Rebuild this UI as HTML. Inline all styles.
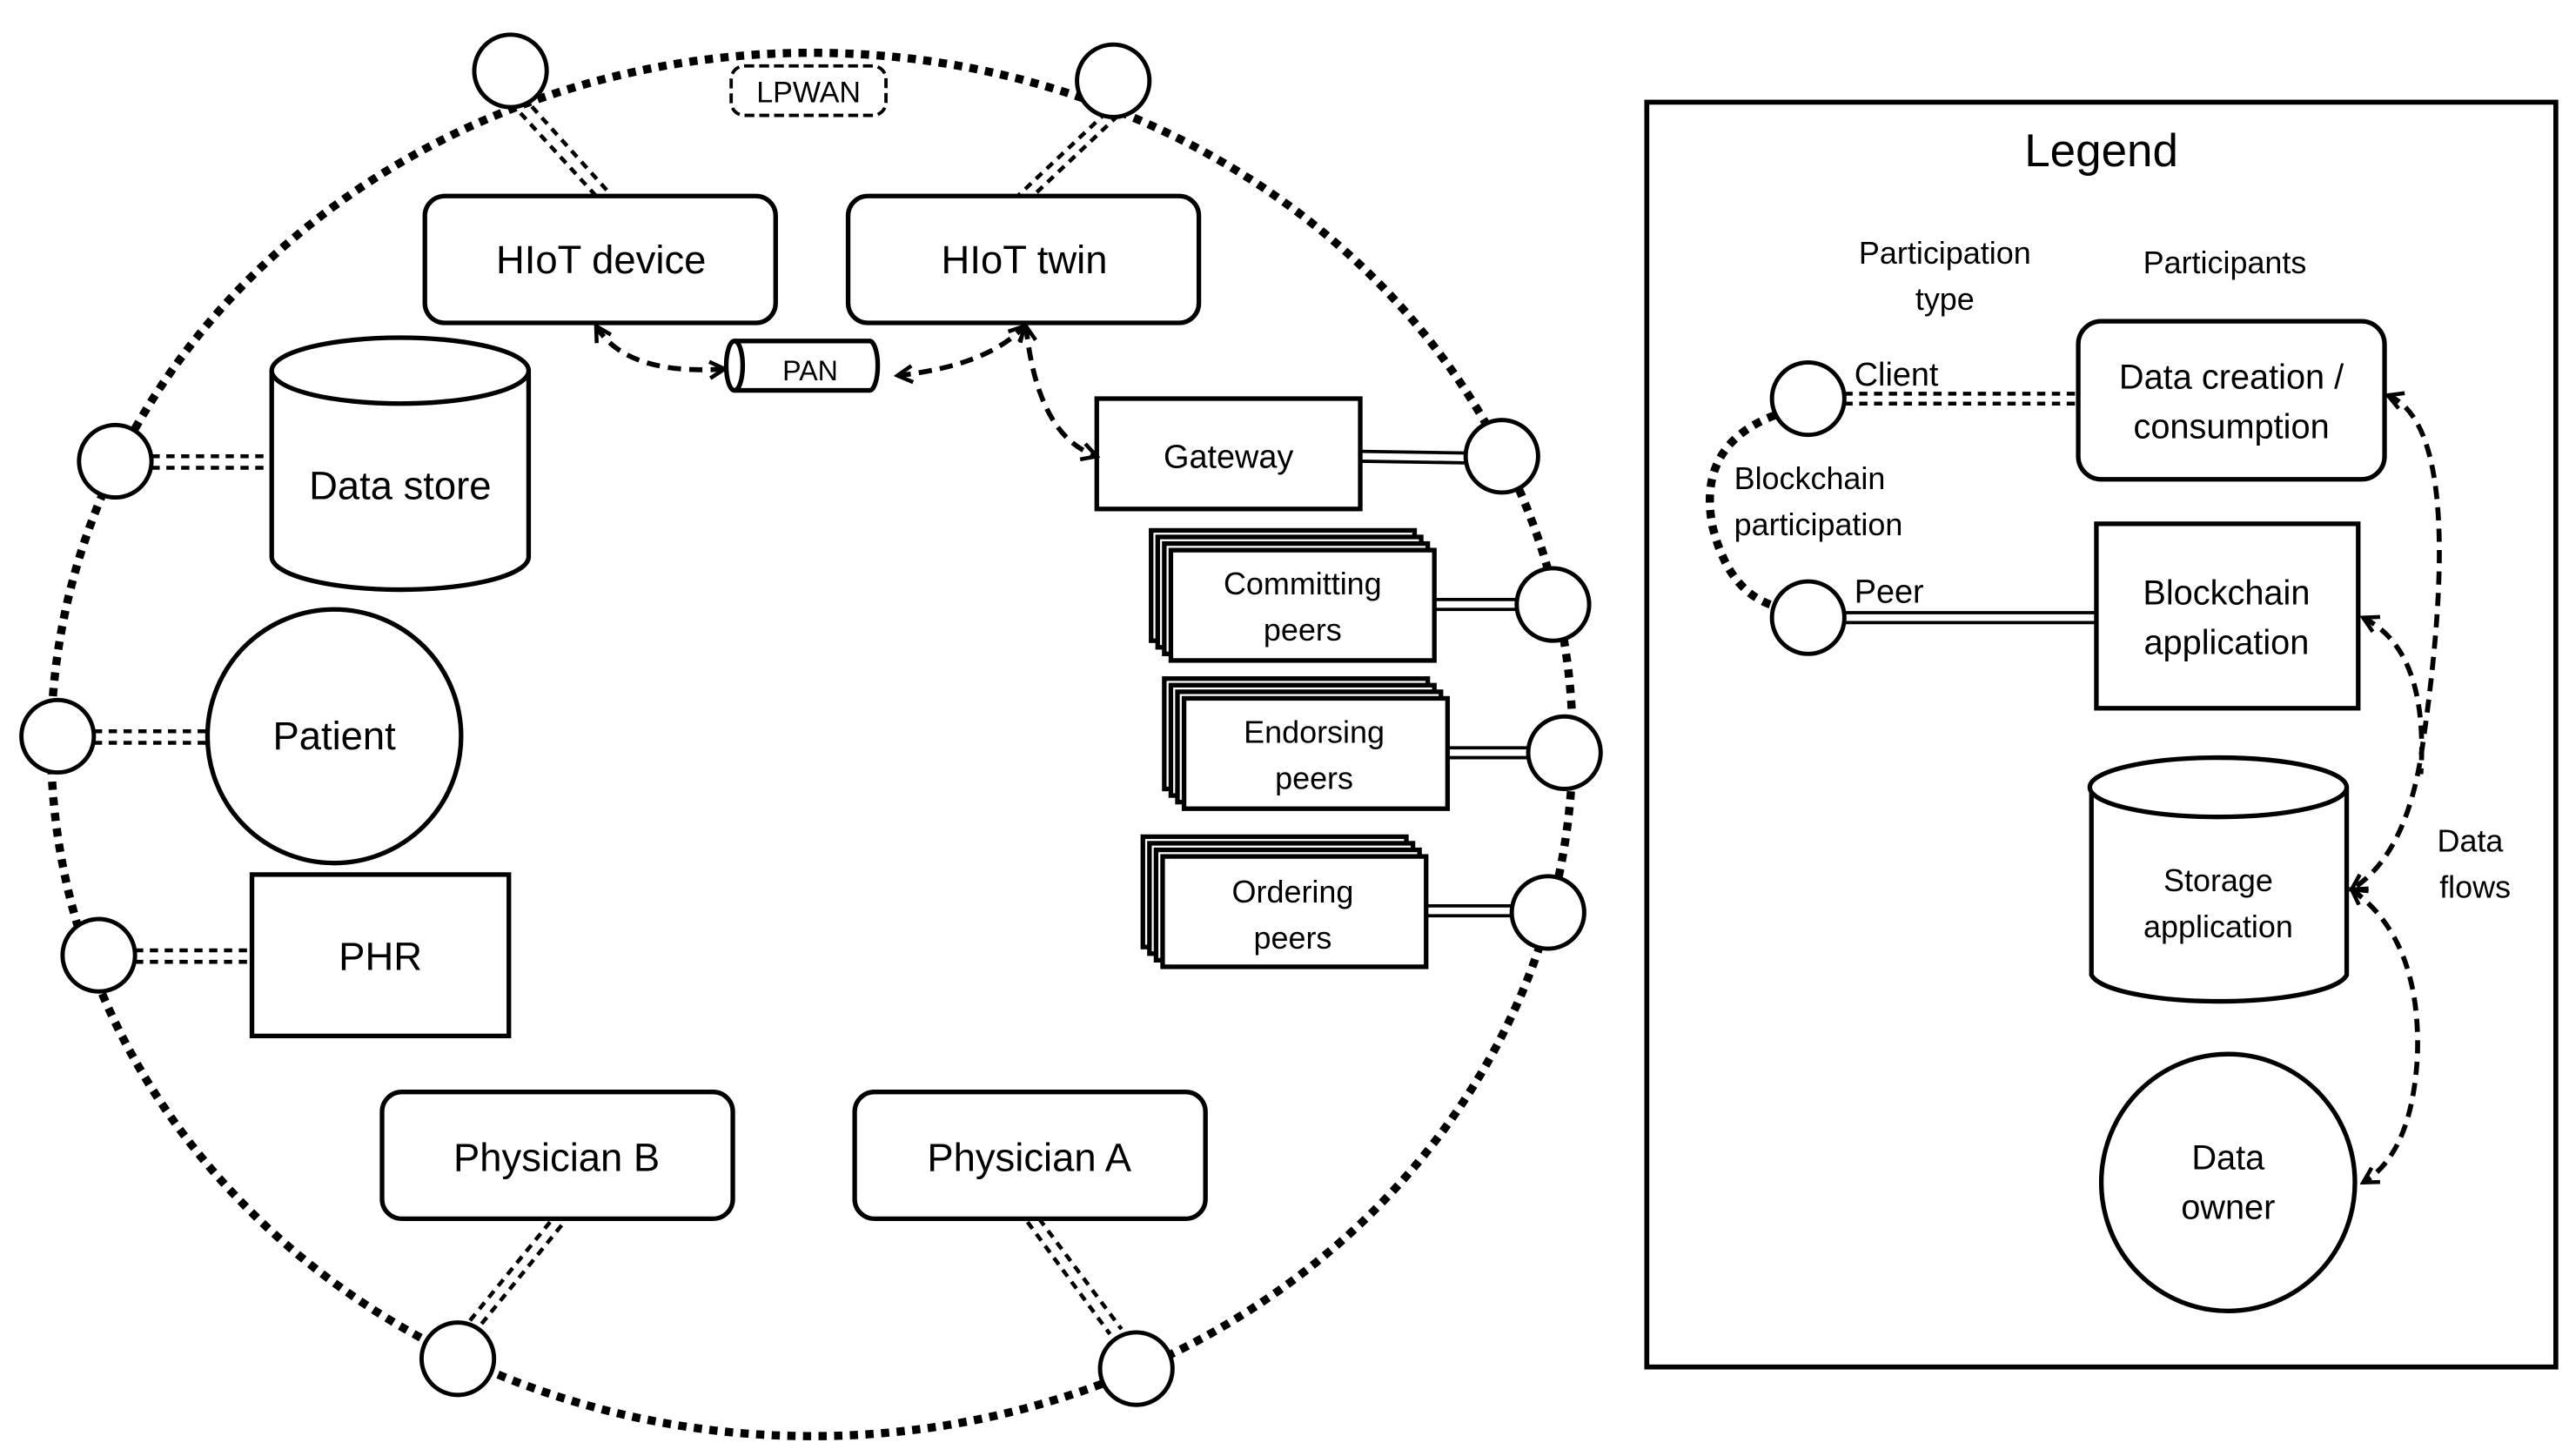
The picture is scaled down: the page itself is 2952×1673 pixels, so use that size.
<!DOCTYPE html>
<html><head><meta charset="utf-8"><style>html,body{margin:0;padding:0;background:#fff}svg{display:block}</style></head>
<body>
<svg width="2952" height="1673" viewBox="0 0 1560 884" xmlns="http://www.w3.org/2000/svg" font-family="'Liberation Sans', sans-serif" fill="none" stroke="#000">
<defs>
<marker id="ah" viewBox="0 0 12 12" refX="10" refY="6" markerWidth="12" markerHeight="12" markerUnits="userSpaceOnUse" orient="auto-start-reverse"><path d="M1,1 L10,6 L1,11" fill="none" stroke="#000" stroke-width="2.4"/></marker>
</defs>
<rect width="1560" height="884" fill="#fff" stroke="none"/>
<ellipse cx="493" cy="452" rx="462" ry="420" stroke-width="5" stroke-dasharray="5,4.5"/>

<g stroke-width="2.4" stroke-dasharray="5,4">
<g><line x1="310" y1="62" x2="362" y2="119"/><line x1="317" y1="58" x2="369" y2="116"/></g>
<g><line x1="672" y1="68" x2="618" y2="119"/><line x1="679" y1="70" x2="625" y2="121"/></g>
<line x1="92" y1="277" x2="165" y2="277"/><line x1="92" y1="284" x2="165" y2="284"/>
<line x1="57" y1="444" x2="126" y2="444"/><line x1="57" y1="451" x2="126" y2="451"/>
<line x1="82" y1="577" x2="153" y2="577"/><line x1="82" y1="584" x2="153" y2="584"/>
<line x1="334" y1="742" x2="282" y2="806"/><line x1="341" y1="744" x2="289" y2="808"/>
<line x1="624" y1="742" x2="674" y2="810"/><line x1="631" y1="740" x2="681" y2="807"/>
<line x1="1120" y1="239" x2="1262" y2="239"/><line x1="1120" y1="245" x2="1262" y2="245"/>
</g>
<g stroke-width="2">
<line x1="826" y1="274" x2="890" y2="275"/><line x1="826" y1="280" x2="890" y2="281"/>
<line x1="871" y1="364" x2="921" y2="364"/><line x1="871" y1="370" x2="921" y2="370"/>
<line x1="878" y1="454" x2="928" y2="454"/><line x1="878" y1="460" x2="928" y2="460"/>
<line x1="865" y1="550" x2="918" y2="550"/><line x1="865" y1="556" x2="918" y2="556"/>
<line x1="1120" y1="372" x2="1273" y2="372"/><line x1="1120" y1="378" x2="1273" y2="378"/>
</g>

<g stroke-width="2.6" fill="#fff">
<circle cx="310" cy="43" r="22"/><circle cx="676" cy="49" r="22"/>
<circle cx="70" cy="280" r="22"/><circle cx="35" cy="447" r="22"/><circle cx="60" cy="580" r="22"/>
<circle cx="278" cy="825" r="22"/><circle cx="690" cy="831" r="22"/>
<circle cx="912" cy="277" r="22"/><circle cx="943" cy="367" r="22"/><circle cx="950" cy="457" r="22"/><circle cx="940" cy="554" r="22"/>
<circle cx="1098" cy="242" r="22"/><circle cx="1098" cy="375" r="22"/>
</g>

<g stroke-width="2.8" fill="#fff">
<rect x="258" y="119" width="213" height="77" rx="12"/>
<rect x="515" y="119" width="213" height="77" rx="12"/>
<rect x="232" y="663" width="213" height="77" rx="12"/>
<rect x="519" y="663" width="213" height="77" rx="12"/>
<rect x="153" y="531" width="156" height="98"/>
<circle cx="203" cy="447" r="77"/>
<path d="M165,225 L165,338 A78,20 0 0 0 321,338 L321,225"/>
<ellipse cx="243" cy="225" rx="78" ry="20"/>
<rect x="666" y="242" width="160" height="67"/>
<rect x="699" y="322" width="160" height="67"/><rect x="703" y="326" width="160" height="67"/><rect x="707" y="330" width="160" height="67"/><rect x="711" y="334" width="160" height="67"/>
<rect x="707" y="412" width="160" height="67"/><rect x="711" y="416" width="160" height="67"/><rect x="715" y="420" width="160" height="67"/><rect x="719" y="424" width="160" height="67"/>
<rect x="694" y="508" width="160" height="67"/><rect x="698" y="512" width="160" height="67"/><rect x="702" y="516" width="160" height="67"/><rect x="706" y="520" width="160" height="67"/>
<path d="M446,207 L528,207 A5,15 0 0 1 528,237 L446,237"/>
<ellipse cx="446" cy="222" rx="5" ry="15"/>
</g>
<rect x="444" y="40" width="94" height="30" rx="8" stroke-width="2" stroke-dasharray="6,3"/>

<g stroke-width="3" stroke-dasharray="8,5" marker-start="url(#ah)" marker-end="url(#ah)">
<path d="M362,198 Q380,228 440,224"/>
<path d="M545,228 Q600,222 622,198"/>
<path d="M623,198 Q630,265 666,277"/>
<path d="M1450,240 Q1500,260 1470,460 Q1460,520 1428,540"/>
<path d="M1435,375 Q1475,395 1470,470" marker-end="none"/>
<path d="M1428,540 Q1470,570 1468,640 Q1465,700 1435,718"/>
</g>
<path d="M1078,252 Q1030,270 1040,320 Q1050,360 1078,368" stroke-width="5" stroke-dasharray="5,4.5"/>

<rect x="1000" y="62" width="552" height="768" stroke-width="3"/>
<g stroke-width="2.8" fill="#fff">
<rect x="1262" y="195" width="186" height="96" rx="14"/>
<rect x="1273" y="318" width="159" height="112"/>
<path d="M1270,478 L1270,592 A78,18 0 0 0 1425,592 L1425,478"/>
<ellipse cx="1347" cy="478" rx="78" ry="18"/>
<ellipse cx="1353" cy="718" rx="77" ry="78"/>
</g>

<g fill="#000" stroke="none" text-anchor="middle">
<text x="365" y="166" font-size="24">HIoT device</text>
<text x="622" y="166" font-size="24">HIoT twin</text>
<text x="243" y="303" font-size="24">Data store</text>
<text x="203" y="455" font-size="24">Patient</text>
<text x="231" y="589" font-size="24">PHR</text>
<text x="338" y="711" font-size="24">Physician B</text>
<text x="625" y="711" font-size="24">Physician A</text>
<text x="746" y="284" font-size="20">Gateway</text>
<text x="791" y="361" font-size="19">Committing</text><text x="791" y="389" font-size="19">peers</text>
<text x="798" y="451" font-size="19">Endorsing</text><text x="798" y="479" font-size="19">peers</text>
<text x="785" y="548" font-size="19">Ordering</text><text x="785" y="576" font-size="19">peers</text>
<text x="492" y="231" font-size="17">PAN</text>
<text x="491" y="62" font-size="18">LPWAN</text>
<text x="1276" y="101" font-size="28">Legend</text>
<text x="1181" y="160" font-size="19">Participation</text><text x="1181" y="188" font-size="19">type</text>
<text x="1351" y="166" font-size="19">Participants</text>
<text x="1355" y="236" font-size="21">Data creation /</text><text x="1355" y="266" font-size="21">consumption</text>
<text x="1352" y="367" font-size="21">Blockchain</text><text x="1352" y="397" font-size="21">application</text>
<text x="1347" y="541" font-size="19">Storage</text><text x="1347" y="569" font-size="19">application</text>
<text x="1353" y="710" font-size="21">Data</text><text x="1353" y="740" font-size="21">owner</text>
<text x="1500" y="517" font-size="19">Data</text><text x="1503" y="545" font-size="19">flows</text>
</g>
<g fill="#000" stroke="none">
<text x="1126" y="234" font-size="20">Client</text>
<text x="1126" y="366" font-size="20">Peer</text>
<text x="1053" y="297" font-size="19">Blockchain</text><text x="1053" y="325" font-size="19">participation</text>
</g>
</svg>
</body></html>
